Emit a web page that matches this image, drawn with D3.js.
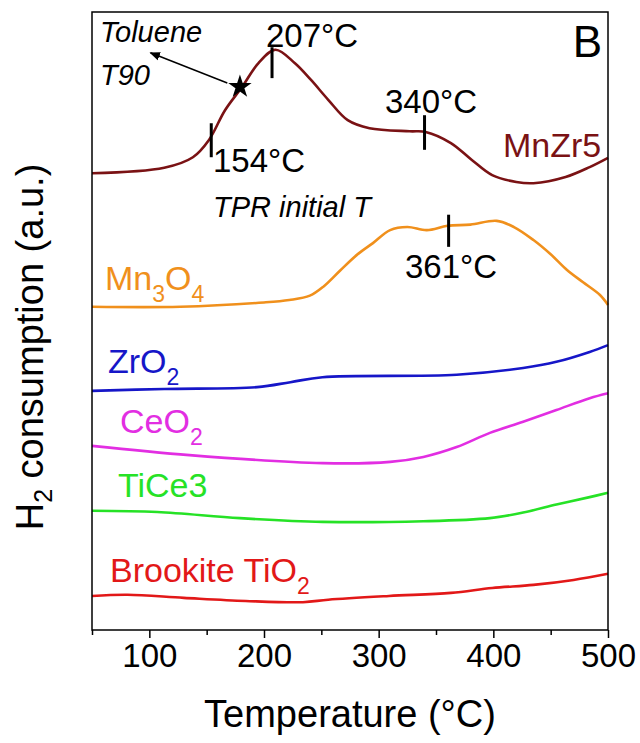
<!DOCTYPE html>
<html>
<head>
<meta charset="utf-8">
<script src="https://cdn.jsdelivr.net/npm/d3@7"></script>
<style>
  body { margin: 0; background: #fff; }
  svg text { font-family: "Liberation Sans", Arial, sans-serif; }
</style>
</head>
<body>
<div id="diagram"></div>
<script>
// temperature (°C) / H2 consumption (a.u.)
var mnzr5T = [50, 113, 138, 152, 166, 181, 195, 210, 227, 241, 256, 273, 292, 327, 341, 363, 381, 399, 420, 435, 463, 484, 500];
var mnzr5V = [73.9, 74.8, 76.5, 79.3, 84.1, 87.9, 91.7, 93.9, 91.7, 89.0, 85.8, 82.5, 81.2, 80.7, 80.6, 78.8, 76.1, 73.6, 72.5, 72.3, 73.3, 74.9, 76.4];

var mn3o4T = [50, 127, 200, 222, 240, 252, 266, 281, 295, 310, 325, 342, 360, 380, 403, 418, 435, 450, 464, 478, 493, 500];
var mn3o4V = [52.3, 52.3, 53.0, 53.4, 54.1, 55.6, 58.1, 60.7, 62.6, 64.7, 65.2, 64.7, 65.4, 65.6, 66.2, 65.2, 63.1, 60.8, 58.3, 56.3, 54.2, 52.6];

var zro2T = [50, 113, 194, 223, 251, 368, 426, 455, 484, 500];
var zro2V = [38.7, 39.0, 39.3, 40.1, 40.9, 41.3, 42.4, 43.4, 45.0, 46.1];

var ceo2T = [50, 135, 251, 310, 339, 368, 397, 426, 455, 484, 500];
var ceo2V = [29.8, 28.3, 27.0, 27.2, 28.0, 29.6, 31.9, 33.7, 35.6, 37.5, 38.3];

var tice3T = [50, 107, 179, 251, 339, 397, 426, 455, 484, 500];
var tice3V = [19.3, 19.1, 18.1, 17.5, 17.6, 18.1, 19.0, 20.3, 21.5, 22.2];

var brookT = [50, 81, 130, 184, 234, 256, 309, 363, 399, 435, 470, 500];
var brookV = [5.5, 5.7, 5.2, 4.7, 4.5, 4.9, 5.5, 6.0, 6.8, 7.3, 8.1, 9.1];

var names = ["MnZr5", "Mn3O4", "ZrO2", "CeO2", "TiCe3", "Brookite TiO2"];
var colors = ["#7a1214", "#f0901c", "#1616c8", "#e22ee2", "#26e226", "#e21818"];

// peak markers: temperature, bottom / top of the little bar
var peakT = [154, 207, 340, 361];
var peakLo = [76.5, 89.3, 77.7, 62.0];
var peakHi = [82.0, 94.3, 83.3, 67.2];

var xTicks = [100, 200, 300, 400, 500];
var xMinor = [50, 150, 250, 350, 450];

function main() {
    var w = 640, h = 743;
    var margin = {top: 12, left: 92, right: 32, bottom: 113};
    var width = w - margin.left - margin.right;
    var height = h - margin.top - margin.bottom;

    var svg = d3.select("#diagram")
                .append("svg")
                .attr("width", w)
                .attr("height", h);

    var g = svg.append("g")
               .attr("transform", "translate(" + margin.left + "," + margin.top + ")");

    var x = d3.scaleLinear().domain([50, 500]).range([0, width]);
    var y = d3.scaleLinear().domain([0, 100]).range([618, 0]);

    var series = [
        {T: mnzr5T, V: mnzr5V},
        {T: mn3o4T, V: mn3o4V},
        {T: zro2T, V: zro2V},
        {T: ceo2T, V: ceo2V},
        {T: tice3T, V: tice3V},
        {T: brookT, V: brookV}
    ];

    var line = d3.line()
        .x(function(d) { return x(d[0]); })
        .y(function(d) { return y(d[1]); })
        .curve(d3.curveCatmullRom.alpha(0.5));

    g.selectAll(".curve")
      .data(series)
      .enter()
      .append("path")
      .attr("class", "curve")
      .attr("fill", "none")
      .attr("stroke", function(d, i) { return colors[i]; })
      .attr("stroke-width", 2.6)
      .attr("stroke-linejoin", "round")
      .attr("d", function(d) { return line(d.T.map(function(t, j) { return [t, d.V[j]]; })); });

    // frame
    g.append("rect")
      .attr("width", width)
      .attr("height", height)
      .attr("fill", "none")
      .attr("stroke", "#000")
      .attr("stroke-width", 1.5);

    // x axis, major + minor ticks
    var ax = g.append("g")
      .attr("transform", "translate(0," + height + ")")
      .call(d3.axisBottom(x).tickValues(xTicks).tickSize(8).tickPadding(6).tickFormat(d3.format("d")));
    ax.select(".domain").remove();
    ax.selectAll("line").attr("stroke-width", 1.5);
    ax.selectAll("text")
      .style("font-family", "Liberation Sans, Arial, sans-serif")
      .style("font-size", "33px")
      .attr("fill", "#000");

    var axm = g.append("g")
      .attr("transform", "translate(0," + height + ")")
      .call(d3.axisBottom(x).tickValues(xMinor).tickSize(5).tickFormat(""));
    axm.select(".domain").remove();
    axm.selectAll("line").attr("stroke-width", 1.5);

    // axis titles
    svg.append("text")
      .attr("x", margin.left + width / 2)
      .attr("y", 727)
      .attr("text-anchor", "middle")
      .style("font-size", "38px")
      .text("Temperature (°C)");

    var yl = svg.append("text")
      .attr("transform", "translate(43,347) rotate(-90)")
      .attr("text-anchor", "middle")
      .style("font-size", "38px");
    yl.append("tspan").text("H");
    yl.append("tspan").attr("dy", 9).style("font-size", "25px").text("2");
    yl.append("tspan").attr("dy", -9).text(" consumption (a.u.)");

    // series labels (x, baseline in px inside plot)
    var labPos = [[411, 145], [13, 278], [16, 361], [28, 421], [26, 485], [18, 570]];
    var labs = g.selectAll(".lab")
      .data(names)
      .enter()
      .append("text")
      .attr("class", "lab")
      .attr("x", function(d, i) { return labPos[i][0]; })
      .attr("y", function(d, i) { return labPos[i][1]; })
      .attr("fill", function(d, i) { return colors[i]; })
      .style("font-size", "34px");

    labs.each(function(d) {
        var t = d3.select(this);
        if (d === "MnZr5" || d === "TiCe3") { t.text(d); return; }
        var parts = d.match(/[A-Za-z ]+|\d/g);
        var sub = false;
        parts.forEach(function(p) {
            if (/\d/.test(p)) {
                t.append("tspan").attr("dy", 12).style("font-size", "23px").text(p);
                sub = true;
            } else {
                t.append("tspan").attr("dy", sub ? -12 : 0).text(p);
                sub = false;
            }
        });
    });

    // peak markers
    g.selectAll(".peak")
      .data(peakT)
      .enter()
      .append("line")
      .attr("class", "peak")
      .attr("x1", function(d) { return x(d); })
      .attr("x2", function(d) { return x(d); })
      .attr("y1", function(d, i) { return y(peakLo[i]); })
      .attr("y2", function(d, i) { return y(peakHi[i]); })
      .attr("stroke", "#000")
      .attr("stroke-width", 3);

    var peakLab = [[121, 160], [174, 35], [293, 101], [313, 266]];
    g.selectAll(".plab")
      .data(peakT)
      .enter()
      .append("text")
      .attr("class", "plab")
      .attr("x", function(d, i) { return peakLab[i][0]; })
      .attr("y", function(d, i) { return peakLab[i][1]; })
      .style("font-size", "33px")
      .text(function(d) { return d + "°C"; });

    // toluene T90 star + arrow
    var defs = svg.append("defs");
    defs.append("marker")
      .attr("id", "arr")
      .attr("viewBox", "0 0 10 10")
      .attr("refX", 9).attr("refY", 5)
      .attr("markerWidth", 7).attr("markerHeight", 7)
      .attr("orient", "auto")
      .append("path")
      .attr("d", "M0,1 L10,5 L0,9 z")
      .attr("fill", "#000");

    g.append("line")
      .attr("x1", x(168)).attr("y1", y(88.5))
      .attr("x2", x(101)).attr("y2", y(93.4))
      .attr("stroke", "#000")
      .attr("stroke-width", 1.5)
      .attr("marker-end", "url(#arr)");

    g.append("path")
      .attr("d", d3.symbol().type(d3.symbolStar).size(170))
      .attr("transform", "translate(" + x(179) + "," + y(87.9) + ")")
      .attr("fill", "#000");

    g.append("text").attr("x", 8).attr("y", 30)
      .style("font-size", "29px").style("font-style", "italic").text("Toluene");
    g.append("text").attr("x", 8).attr("y", 73)
      .style("font-size", "29px").style("font-style", "italic").text("T90");
    g.append("text").attr("x", 121).attr("y", 205)
      .style("font-size", "29px").style("font-style", "italic").text("TPR initial T");

    g.append("text").attr("x", width - 6).attr("y", 45)
      .attr("text-anchor", "end")
      .style("font-size", "44px").text("B");
}

main();
</script>
</body>
</html>
